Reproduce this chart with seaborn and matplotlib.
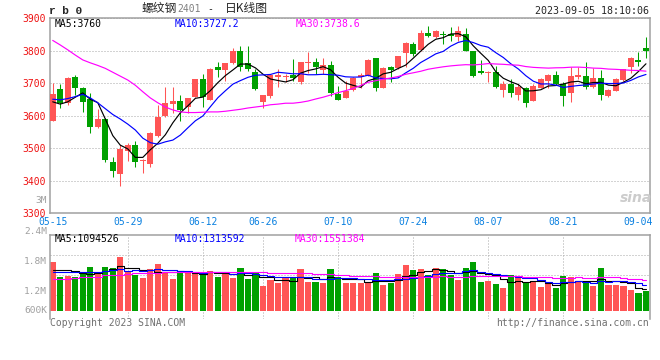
import numpy as np
import pandas as pd
import matplotlib
matplotlib.use('Agg')
import matplotlib.pyplot as plt
import seaborn as sns

# trading days, 06-22 / 06-23 closed for Dragon Boat festival
days = pd.bdate_range('2023-05-15', '2023-09-05').drop(pd.to_datetime(['2023-06-22', '2023-06-23']))

opens = [3584, 3682, 3638, 3719, 3685, 3651, 3565, 3590, 3458, 3421,
         3493, 3510, 3460, 3452, 3538, 3599, 3636, 3647, 3628, 3659,
         3713, 3649, 3751, 3740, 3761, 3800, 3761, 3736, 3641, 3661,
         3718, 3718, 3726, 3703, 3763, 3766, 3740, 3757, 3667, 3656,
         3679, 3720, 3723, 3777, 3687, 3749, 3746, 3792, 3821, 3802,
         3856, 3843, 3853, 3851, 3844, 3851, 3798, 3738, 3733, 3736,
         3679, 3697, 3665, 3685, 3646, 3687, 3708, 3726, 3697, 3669,
         3720, 3723, 3689, 3716, 3661, 3677, 3711, 3749, 3772, 3810]
highs = [3700, 3698, 3718, 3726, 3690, 3669, 3620, 3592, 3474, 3510,
         3515, 3522, 3466, 3551, 3633, 3690, 3690, 3664, 3654, 3713,
         3729, 3746, 3767, 3764, 3808, 3815, 3815, 3744, 3665, 3730,
         3744, 3728, 3774, 3767, 3795, 3777, 3779, 3769, 3692, 3708,
         3718, 3733, 3774, 3779, 3749, 3754, 3785, 3826, 3826, 3864,
         3877, 3864, 3862, 3874, 3877, 3870, 3800, 3771, 3738, 3754,
         3708, 3713, 3697, 3689, 3697, 3716, 3730, 3738, 3705, 3749,
         3749, 3766, 3746, 3741, 3682, 3716, 3744, 3782, 3795, 3841]
lows = [3584, 3625, 3633, 3664, 3613, 3548, 3562, 3459, 3411, 3384,
        3462, 3443, 3423, 3444, 3536, 3597, 3608, 3585, 3608, 3659,
        3628, 3649, 3720, 3708, 3759, 3738, 3738, 3679, 3624, 3656,
        3689, 3703, 3708, 3699, 3733, 3728, 3728, 3662, 3648, 3654,
        3677, 3685, 3723, 3677, 3685, 3703, 3744, 3749, 3785, 3800,
        3841, 3839, 3821, 3829, 3831, 3798, 3720, 3730, 3703, 3685,
        3659, 3659, 3648, 3626, 3646, 3685, 3687, 3695, 3631, 3641,
        3713, 3682, 3685, 3648, 3658, 3675, 3708, 3731, 3754, 3778]
closes = [3667, 3640, 3715, 3687, 3644, 3567, 3590, 3464, 3430, 3497,
          3510, 3459, 3464, 3548, 3597, 3640, 3644, 3618, 3654, 3713,
          3659, 3744, 3741, 3762, 3800, 3749, 3744, 3682, 3665, 3726,
          3726, 3722, 3716, 3766, 3766, 3751, 3757, 3669, 3650, 3677,
          3716, 3726, 3771, 3685, 3747, 3740, 3785, 3823, 3790, 3856,
          3846, 3862, 3848, 3846, 3862, 3798, 3723, 3733, 3736, 3689,
          3697, 3669, 3689, 3638, 3692, 3713, 3726, 3697, 3661, 3723,
          3724, 3688, 3716, 3664, 3680, 3714, 3743, 3778, 3767, 3798]
volumes = [2465000, 1715000, 1765000, 1715000, 1965000, 2215000, 1835000, 2215000, 2165000, 2715000,
           1935000, 1800000, 1665000, 2085000, 2350000, 1965000, 1600000, 1965000, 1965000, 1965000,
           1835000, 2000000, 1715000, 1965000, 1665000, 2135000, 1600000, 1885000, 1250000, 1550000,
           1385000, 1715000, 1665000, 2115000, 1465000, 1465000, 1415000, 2115000, 1715000, 1415000,
           1415000, 1415000, 1415000, 1915000, 1300000, 1385000, 1850000, 2300000, 2050000, 2115000,
           1800000, 2165000, 2115000, 1800000, 1550000, 2165000, 2465000, 1465000, 1515000, 1350000,
           1165000, 1800000, 1665000, 1385000, 1500000, 1200000, 1365000, 1150000, 1765000, 1685000,
           1450000, 1400000, 1265000, 2150000, 1315000, 1315000, 1265000, 1065000, 900000, 1015000]

# averages before enough history exists
ma5_head = [3643, 3636, 3643, 3657]
ma10_head = [3651, 3649, 3653, 3659, 3666, 3655, 3640, 3622, 3604]
ma30_head = [3832, 3818, 3803, 3787, 3772, 3763, 3755, 3746, 3734, 3722,
             3710, 3694, 3674, 3655, 3640, 3627, 3618, 3612, 3610, 3610,
             3611, 3612, 3612, 3614, 3617, 3620, 3624, 3627, 3630]
vma5_head = [2050000, 2050000, 2040000, 1980000]
vma10_head = [1930000, 1930000, 1930000, 1930000, 1940000, 1950000, 1970000, 2000000, 2030000]
vma30_head = [1600000, 1600000, 1620000, 1640000, 1690000, 1700000, 1720000, 1780000, 1800000, 1820000,
              1860000, 1880000, 1890000, 1900000, 1910000, 1930000, 1940000, 1940000, 1940000, 1950000,
              1950000, 1960000, 1970000, 1970000, 1970000, 1960000, 1950000, 1940000, 1930000]

tick_dates = ['05-15', '05-29', '06-12', '06-26', '07-10', '07-24', '08-07', '08-21', '09-04']
price_ticks = [3300, 3400, 3500, 3600, 3700, 3800, 3900]
vol_labels = ['3M', '2.4M', '1.8M', '1.2M', '600K']
vol_label_vals = [3.0e6, 2.4e6, 1.8e6, 1.2e6, 0.6e6]
vol_grid = [0.8e6, 1.8e6, 2.8e6]

RED = '#ff5555'
GREEN = '#00a000'
MAG = '#ff00ff'
GRID = '#a8a8a8'
EDGE = '#a0a0a0'


def moving(values, n, head):
    out = pd.Series(values, dtype=float).rolling(n).mean().to_numpy()
    out[:n - 1] = head
    return out


sns.set_style('white')
plt.rcParams['font.family'] = ['DejaVu Sans Mono', 'Noto Sans CJK SC']

W, H = 660, 360
fig = plt.figure(figsize=(6.6, 3.6), dpi=100)


def box(l, t, r, b):
    return [l / W, 1 - b / H, (r - l) / W, (b - t) / H]


def ftext(xp, yp, s, **kw):
    kw.setdefault('fontsize', 7)
    kw.setdefault('va', 'center')
    fig.text(xp / W, 1 - yp / H, s, **kw)


ax = fig.add_axes(box(50, 18.3, 649.5, 213.3))
axv = fig.add_axes(box(50, 234.5, 649.5, 319))

x = np.arange(len(closes))
o, hi, lo, c = (np.array(a, dtype=float) for a in (opens, highs, lows, closes))
up = c >= o
col = np.where(up, RED, GREEN)

# candles
ax.vlines(x, lo, hi, colors=col, lw=0.75, zorder=2)
ax.bar(x, np.maximum(np.abs(c - o), 2), bottom=np.minimum(o, c), width=0.8,
       color=col, linewidth=0, zorder=3)

sns.lineplot(x=x, y=moving(closes, 5, ma5_head), ax=ax, color='black', lw=0.85, zorder=4)
sns.lineplot(x=x, y=moving(closes, 10, ma10_head), ax=ax, color='#0000ff', lw=0.85, zorder=4)
sns.lineplot(x=x, y=moving(closes, 30, ma30_head), ax=ax, color=MAG, lw=0.85, zorder=4)

# volume
vdf = pd.DataFrame({'i': x, 'vol': volumes, 'dir': np.where(up, 'up', 'down')})
sns.barplot(data=vdf, x='i', y='vol', hue='dir', palette={'up': RED, 'down': GREEN},
            native_scale=True, dodge=False, width=0.82, saturation=1, errorbar=None,
            legend=False, linewidth=0, ax=axv, zorder=2)
sns.lineplot(x=x, y=moving(volumes, 5, vma5_head), ax=axv, color='black', lw=0.8,
             drawstyle='steps-mid', zorder=4)
sns.lineplot(x=x, y=moving(volumes, 10, vma10_head), ax=axv, color='#0000ff', lw=0.8,
             drawstyle='steps-mid', zorder=4)
sns.lineplot(x=x, y=moving(volumes, 30, vma30_head), ax=axv, color=MAG, lw=0.8,
             drawstyle='steps-mid', zorder=4)

day_labels = list(days.strftime('%m-%d'))
tick_pos = [day_labels.index(d) for d in tick_dates]
grid_kw = dict(color=GRID, lw=0.72, linestyle=(0, (1, 2)))

for a in (ax, axv):
    a.set_xlim(-0.36, 79.47)
    a.set_xlabel('')
    a.set_ylabel('')
    a.set_facecolor('white')
    for s in a.spines.values():
        s.set_color(EDGE)
        s.set_linewidth(1.1)
    a.set_xticks(tick_pos[1:-1], minor=True)
    a.grid(which='minor', axis='x', **grid_kw)
    a.set_axisbelow(True)

ax.set_ylim(3300, 3900)
ax.set_yticks(price_ticks)
ax.set_yticklabels([str(p) for p in price_ticks], color='#ee1111', fontsize=7)
ax.set_xticks(tick_pos)
ax.set_xticklabels(tick_dates, color='#0a80e0', fontsize=7)
ax.tick_params(which='both', length=0)
ax.tick_params(axis='y', pad=3)
ax.tick_params(axis='x', pad=2.5)
ax.grid(which='major', axis='y', **grid_kw)

axv.set_ylim(-400e3, 3.825e6)
axv.set_xticks([])
axv.set_yticks([])
axv.set_yticks(vol_grid, minor=True)
axv.yaxis.set_minor_formatter(plt.NullFormatter())
axv.xaxis.set_minor_formatter(plt.NullFormatter())
axv.tick_params(which='both', length=0)
axv.grid(which='minor', axis='y', **grid_kw)
axv.spines['bottom'].set_visible(False)

# volume axis labels as printed on the chart (their own spacing)
for lab, v in zip(vol_labels, vol_label_vals):
    yp = min(291.5 - (v - 1.2e6) / 600e3 * 30.2, 310.7)
    ftext(47, yp, lab, color='#a0a0a0', ha='right', fontsize=6.8)

# legends
ftext(55, 24, 'MA5:3760', color='black')
ftext(174.7, 24, 'MA10:3727.2', color='#0000ff')
ftext(295.3, 24, 'MA30:3738.6', color=MAG)
ftext(55, 238.7, 'MA5:1094526', color='black')
ftext(175, 238.7, 'MA10:1313592', color='#0000ff')
ftext(295, 238.7, 'MA30:1551384', color=MAG)

# header
ftext(49, 11.5, 'r b 0', fontsize=8, fontweight='bold', family=['Liberation Mono'])
ftext(141.7, 8.5, '螺纹钢', fontsize=8.5, family=['Noto Sans CJK SC'])
ftext(177.7, 9.5, '2401', color='#808080')
ftext(210, 9.5, '-', ha='center')
ftext(224.7, 8.5, '日K线图', fontsize=8.5, family=['Noto Sans CJK SC'])
ftext(649, 11.5, '2023-09-05 18:10:06', ha='right', fontsize=7.2)

# footer and watermark
ftext(50, 323.5, 'Copyright 2023 SINA.COM', color='#707070')
ftext(649, 323.5, 'http://finance.sina.com.cn', ha='right', color='#707070')
ftext(636, 198, 'sina', color='#cccccc', fontsize=10, ha='center',
      style='italic', fontweight='bold', family=['DejaVu Sans'])

fig.savefig('out.png', dpi=100)
